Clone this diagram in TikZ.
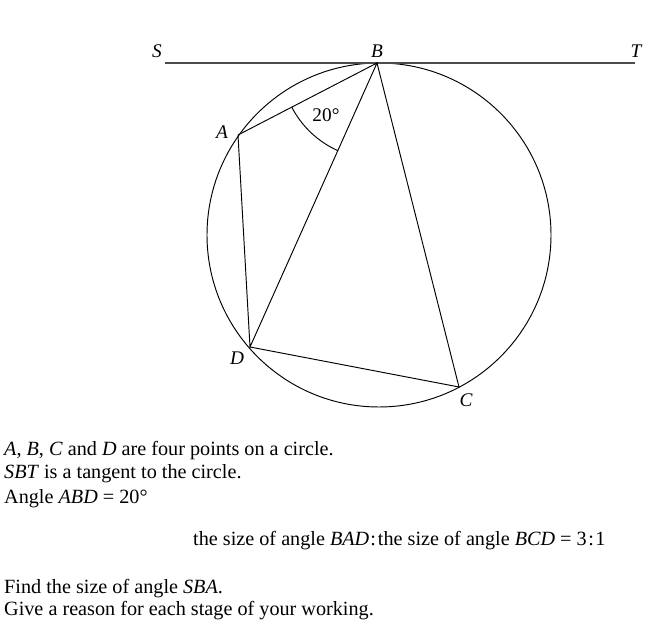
\documentclass[tikz,border=0pt]{standalone}
\usepackage{fontspec}
\setmainfont{Liberation Serif}
\usetikzlibrary{angles}
\begin{document}
\begin{tikzpicture}[x=1pt,y=1pt,
  edge/.style={line width=0.95pt,black},
  tangentline/.style={line width=1.3pt,black!70},
  ptlabel/.style={font=\fontsize{19.3}{19}\selectfont\itshape,anchor=base,inner sep=0pt},
  bodytext/.style={font=\fontsize{20.2}{23}\selectfont,anchor=base west,inner sep=0pt}]
\useasboundingbox (0,0) rectangle (656,636);
% points
\coordinate (O) at (379,401);
\coordinate (B) at (377,573);
\coordinate (A) at (238,501);
\coordinate (D) at (250,289);
\coordinate (C) at (459,249);
\coordinate (S) at (165,573);
\coordinate (T) at (635,573);
% circle and lines
\draw[edge] (O) circle (172pt);
\draw[tangentline] (S) -- (T);
\draw[edge] (A) -- (B) -- (D) -- (A);
\draw[edge] (B) -- (C) -- (D);
\pic[draw,line width=0.95pt,angle radius=96pt] {angle=A--B--D};
% labels
\node[ptlabel] (lS) at (157,578) {S};
\node[ptlabel] (lB) at (377,578) {B};
\node[ptlabel] (lT) at (636,578) {T};
\node[ptlabel] (lA) at (222,497) {A};
\node[ptlabel] (lD) at (237,271) {D};
\node[ptlabel] (lC) at (466,229) {C};
\node[ptlabel,font=\fontsize{19.3}{19}\selectfont] (lang) at (326,514) {20°};
% text
\node[bodytext] (t1) at (4,180) {\textit{A}, \textit{B}, \textit{C} and \textit{D} are four points on a circle.};
\node[bodytext] (t2) at (4,157) {\textit{SBT} is a tangent to the circle.};
\node[bodytext] (t3) at (4,132) {Angle \textit{ABD} = 20°};
\node[bodytext] (t4) at (193,90) {the size of angle \textit{BAD}\kern1pt:\kern2pt the size of angle \textit{BCD} = 3\kern1.5pt:\kern1.5pt1};
\node[bodytext] (t5) at (4,42) {Find the size of angle \textit{SBA}.};
\node[bodytext] (t6) at (4,20) {Give a reason for each stage of your working.};
\end{tikzpicture}
\end{document}
